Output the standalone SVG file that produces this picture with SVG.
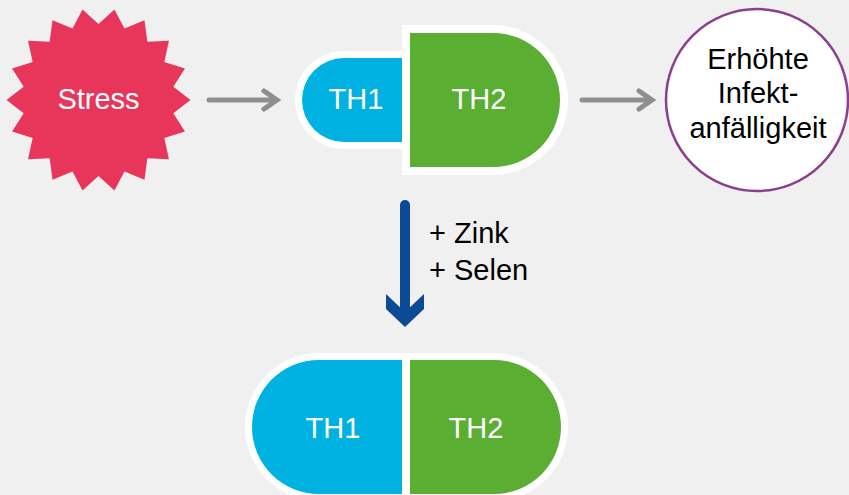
<svg xmlns="http://www.w3.org/2000/svg" width="849" height="495" viewBox="0 0 849 495">
<style>
  text { font-family: "Liberation Sans", Arial, sans-serif; }
  .wt { fill: #ffffff; font-size: 29px; text-anchor: middle; }
  .bk { fill: #000000; font-size: 29px; }
  .gray { stroke: #8f8f8f; stroke-width: 5; fill: none; stroke-linecap: round; stroke-linejoin: miter; }
</style>
<rect x="0" y="0" width="849" height="495" fill="#f0f0f0"/>
<g id="stress">
  <polygon fill="#e8365a" points="190.5,100 173.34,86.81 184.95,68.54 164.32,62 168.97,40.86 147.35,41.78 144.5,20.33 124.49,28.58 114.47,9.4 98.5,24 82.53,9.4 72.51,28.58 52.5,20.33 49.65,41.78 28.03,40.86 32.68,62 12.05,68.54 23.66,86.81 6.5,100 23.66,113.19 12.05,131.46 32.68,138 28.03,159.14 49.65,158.22 52.5,179.67 72.51,171.42 82.53,190.6 98.5,176 114.47,190.6 124.49,171.42 144.5,179.67 147.35,158.22 168.97,159.14 164.32,138 184.95,131.46 173.34,113.19"/>
  <text class="wt" x="98.5" y="109">Stress</text>
</g>
<g id="pill-top">
  <path fill="#ffffff" d="M410,51 H344 A49,49 0 0 0 344,149 H410 Z"/>
  <path fill="#ffffff" d="M402,25 H493 A75,75 0 0 1 493,175 H402 Z"/>
  <path fill="#00b2e2" d="M402,58 H344 A42,42 0 0 0 344,142 H402 Z"/>
  <path fill="#5aaf33" d="M410,33 H493 A67,67 0 0 1 493,167 H410 Z"/>
  <text class="wt" x="356" y="109">TH1</text>
  <text class="wt" x="479" y="109">TH2</text>
</g>
<g id="infekt">
  <circle cx="757" cy="100" r="91" fill="#ffffff" stroke="#8b3f8c" stroke-width="2.5"/>
  <text class="bk" x="758" y="69" text-anchor="middle">Erhöhte</text>
  <text class="bk" x="758" y="103" text-anchor="middle">Infekt-</text>
  <text class="bk" x="758" y="138" text-anchor="middle">anfälligkeit</text>
</g>
<g id="pill-bottom">
  <rect x="245" y="353" width="323" height="148" rx="74" ry="74" fill="#ffffff"/>
  <path fill="#00b2e2" d="M402,360 H319 A67,67 0 0 0 319,494 H402 Z"/>
  <path fill="#5aaf33" d="M410,360 H494 A67,67 0 0 1 494,494 H410 Z"/>
  <text class="wt" x="333" y="438">TH1</text>
  <text class="wt" x="476" y="438">TH2</text>
</g>
<g id="connectors">
  <line class="gray" x1="209" y1="100" x2="276" y2="100"/>
  <polyline class="gray" points="264,91 277,100 264,109"/>
  <line class="gray" x1="582" y1="100" x2="651" y2="100"/>
  <polyline class="gray" points="639,91 652,100 639,109"/>
  <line x1="405" y1="205" x2="405" y2="315" stroke="#0d4a96" stroke-width="10" stroke-linecap="round"/>
  <polygon fill="#0d4a96" points="386,294 405,312 424,294 424,309 405,327 386,309"/>
</g>
<g id="labels">
  <text class="bk" x="429" y="243">+ Zink</text>
  <text class="bk" x="429" y="280">+ Selen</text>
</g>
</svg>
